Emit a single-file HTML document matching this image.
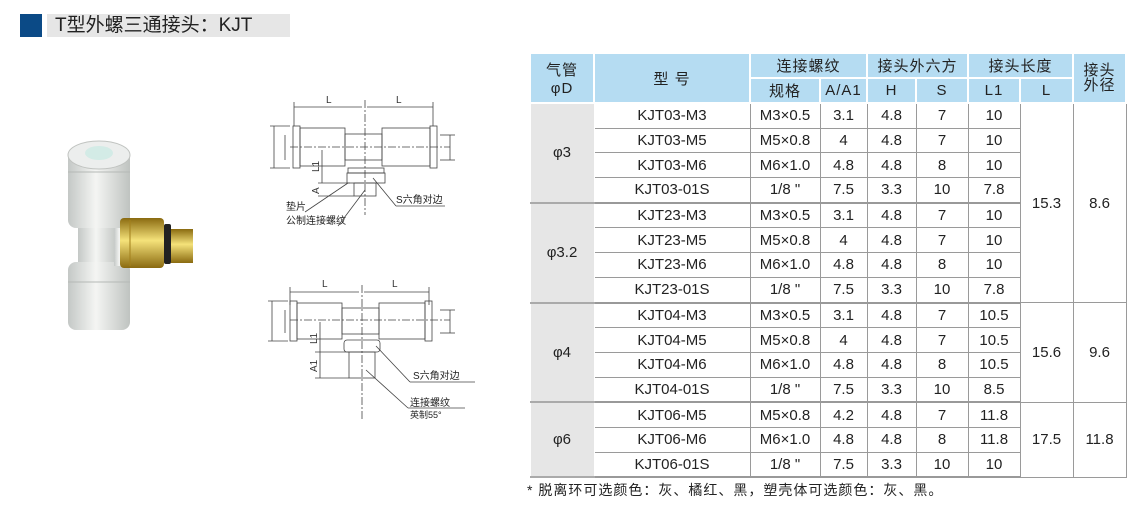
<!DOCTYPE html>
<html><head><meta charset="utf-8"><style>
body{margin:0;width:1140px;height:513px;background:#fff;position:relative;font-family:"Liberation Sans","Noto Sans CJK SC",sans-serif;overflow:hidden}
.abs{position:absolute}
table{position:absolute;left:529px;top:52px;border-collapse:collapse;table-layout:fixed;font-size:15px;color:#222}
td{text-align:center;padding:0;border:1px solid #9a9a9a;height:23.7px;white-space:nowrap}
th{background:#b5dcf2;font-weight:normal;border:2px solid #fff;height:23px;padding:0;letter-spacing:1px}
td.g{background:#e6e6e6;border:1px solid #fff;border-bottom:2px solid #aaa}
tr.gb td{border-bottom:2px solid #999}
</style></head><body>
<div class="abs" style="left:20px;top:14px;width:22px;height:23px;background:#0b4a86"></div>
<div class="abs" style="left:47px;top:14px;width:243px;height:23px;background:#e6e6e6;font-size:19px;line-height:23px;padding-left:8px;box-sizing:border-box;color:#222">T型外螺三通接头：KJT</div>

<svg class="abs" style="left:0;top:0" width="240" height="340">
<defs><linearGradient id="w" x1="0" x2="1"><stop offset="0" stop-color="#c4c8c6"/><stop offset=".45" stop-color="#f4f5f3"/><stop offset="1" stop-color="#bfc3c0"/></linearGradient>
<linearGradient id="b" x1="0" y1="0" x2="0" y2="1"><stop offset="0" stop-color="#8a6a10"/><stop offset=".45" stop-color="#f5e27a"/><stop offset="1" stop-color="#8a6a10"/></linearGradient></defs>
<rect x="78" y="210" width="40" height="70" fill="url(#w)"/>
<rect x="68" y="150" width="62" height="78" rx="8" fill="url(#w)"/>
<rect x="68" y="262" width="62" height="68" rx="8" fill="url(#w)"/>
<line x1="68" y1="172" x2="130" y2="172" stroke="#b5b9b6"/>
<line x1="68" y1="282" x2="130" y2="282" stroke="#b5b9b6"/>
<ellipse cx="99" cy="155" rx="31" ry="14" fill="#eceeed" stroke="#c0c3c0"/>
<ellipse cx="99" cy="153" rx="14" ry="7" fill="#d3ebe6"/>
<rect x="114" y="228" width="12" height="38" fill="url(#w)"/>
<rect x="120" y="218" width="44" height="50" rx="4" fill="url(#b)"/>
<line x1="130" y1="220" x2="130" y2="266" stroke="#a3801b"/>
<rect x="164" y="224" width="7" height="40" rx="2" fill="#222"/>
<rect x="171" y="229" width="22" height="34" fill="url(#b)"/>
</svg>

<svg class="abs" style="left:260px;top:90px" width="220" height="340" font-family="Liberation Sans, Noto Sans CJK SC, sans-serif" font-size="10" fill="none" stroke="#444" stroke-width="0.8">
<line x1="34" y1="17" x2="102" y2="17"/><line x1="107" y1="17" x2="173" y2="17"/>
<line x1="34" y1="12" x2="34" y2="36"/><line x1="173" y1="12" x2="173" y2="36"/>
<text x="66" y="13" fill="#333" stroke="none">L</text><text x="136" y="13" fill="#333" stroke="none">L</text>
<line x1="105" y1="10" x2="105" y2="125" stroke-dasharray="8 2 2 2"/>
<line x1="30" y1="57" x2="190" y2="57" stroke-dasharray="8 2 2 2"/>
<rect x="33" y="36" width="7" height="42"/><rect x="40" y="38" width="45" height="38"/>
<rect x="85" y="44" width="37" height="26"/><rect x="122" y="38" width="48" height="38"/><rect x="170" y="36" width="7" height="42"/>
<rect x="88" y="78" width="36" height="5"/><rect x="87" y="83" width="38" height="10"/><rect x="94" y="93" width="22" height="13"/>
<line x1="10" y1="36" x2="30" y2="36"/><line x1="10" y1="78" x2="30" y2="78"/><line x1="14" y1="36" x2="14" y2="78"/>
<line x1="25" y1="45" x2="25" y2="70"/><line x1="190" y1="45" x2="190" y2="70"/><line x1="180" y1="45" x2="195" y2="45"/><line x1="180" y1="70" x2="195" y2="70"/>
<line x1="62" y1="60" x2="62" y2="93"/><line x1="58" y1="93" x2="90" y2="93"/><line x1="58" y1="106" x2="94" y2="106"/>
<text fill="#333" stroke="none" transform="translate(59 82) rotate(-90)">L1</text>
<text fill="#333" stroke="none" transform="translate(59 104) rotate(-90)">A</text>
<text x="26" y="120" fill="#222" stroke="none">垫片</text><text x="26" y="134" fill="#222" stroke="none">公制连接螺纹</text>
<line x1="45" y1="122" x2="88" y2="93"/><line x1="78" y1="136" x2="105" y2="100"/>
<text x="136" y="113" fill="#222" stroke="none">S六角对边</text><line x1="113" y1="88" x2="136" y2="116"/><line x1="136" y1="116" x2="185" y2="116"/>
<line x1="30" y1="202" x2="99" y2="202"/><line x1="104" y1="202" x2="169" y2="202"/>
<line x1="30" y1="197" x2="30" y2="215"/><line x1="169" y1="197" x2="169" y2="215"/>
<text x="62" y="197" fill="#333" stroke="none">L</text><text x="132" y="197" fill="#333" stroke="none">L</text>
<line x1="102" y1="195" x2="102" y2="330" stroke-dasharray="8 2 2 2"/>
<line x1="30" y1="230" x2="190" y2="230" stroke-dasharray="8 2 2 2"/>
<rect x="30" y="211" width="7" height="40"/><rect x="37" y="213" width="45" height="36"/>
<rect x="82" y="218" width="37" height="26"/><rect x="119" y="213" width="46" height="36"/><rect x="165" y="211" width="7" height="40"/>
<rect x="84" y="250" width="36" height="12" rx="3"/><rect x="89" y="262" width="26" height="26"/>
<line x1="8" y1="211" x2="28" y2="211"/><line x1="8" y1="251" x2="28" y2="251"/><line x1="12" y1="211" x2="12" y2="251"/>
<line x1="25" y1="220" x2="25" y2="243"/><line x1="190" y1="220" x2="190" y2="243"/><line x1="180" y1="220" x2="195" y2="220"/><line x1="180" y1="243" x2="195" y2="243"/>
<line x1="60" y1="232" x2="60" y2="262"/><line x1="55" y1="262" x2="89" y2="262"/><line x1="55" y1="288" x2="89" y2="288"/><line x1="60" y1="262" x2="60" y2="288"/>
<text fill="#333" stroke="none" transform="translate(57 254) rotate(-90)">L1</text>
<text fill="#333" stroke="none" transform="translate(57 282) rotate(-90)">A1</text>
<text x="153" y="289" fill="#222" stroke="none">S六角对边</text><line x1="116" y1="256" x2="150" y2="292"/><line x1="150" y1="292" x2="215" y2="292"/>
<text x="150" y="316" fill="#222" stroke="none">连接螺纹</text><text x="150" y="328" fill="#222" stroke="none" font-size="9">英制55°</text>
<line x1="106" y1="280" x2="148" y2="318"/><line x1="148" y1="318" x2="205" y2="318"/>
</svg>

<table>
<colgroup><col style="width:64px"><col style="width:156px"><col style="width:70px"><col style="width:47px"><col style="width:49px"><col style="width:52px"><col style="width:52px"><col style="width:53px"><col style="width:53px"></colgroup>
<tr><th rowspan="2">气管<br>φD</th><th rowspan="2">型 号</th><th colspan="2">连接螺纹</th><th colspan="2">接头外六方</th><th colspan="2">接头长度</th><th rowspan="2" style="line-height:15px">接头<br>外径</th></tr>
<tr><th>规格</th><th>A/A1</th><th>H</th><th>S</th><th>L1</th><th>L</th></tr>
<tr><td class="g" rowspan="4">φ3</td><td>KJT03-M3</td><td>M3×0.5</td><td>3.1</td><td>4.8</td><td>7</td><td>10</td><td rowspan="8">15.3</td><td rowspan="8">8.6</td></tr>
<tr><td>KJT03-M5</td><td>M5×0.8</td><td>4</td><td>4.8</td><td>7</td><td>10</td></tr>
<tr><td>KJT03-M6</td><td>M6×1.0</td><td>4.8</td><td>4.8</td><td>8</td><td>10</td></tr>
<tr class="gb"><td>KJT03-01S</td><td>1/8 "</td><td>7.5</td><td>3.3</td><td>10</td><td>7.8</td></tr>
<tr><td class="g" rowspan="4">φ3.2</td><td>KJT23-M3</td><td>M3×0.5</td><td>3.1</td><td>4.8</td><td>7</td><td>10</td></tr>
<tr><td>KJT23-M5</td><td>M5×0.8</td><td>4</td><td>4.8</td><td>7</td><td>10</td></tr>
<tr><td>KJT23-M6</td><td>M6×1.0</td><td>4.8</td><td>4.8</td><td>8</td><td>10</td></tr>
<tr class="gb"><td>KJT23-01S</td><td>1/8 "</td><td>7.5</td><td>3.3</td><td>10</td><td>7.8</td></tr>
<tr><td class="g" rowspan="4">φ4</td><td>KJT04-M3</td><td>M3×0.5</td><td>3.1</td><td>4.8</td><td>7</td><td>10.5</td><td rowspan="4">15.6</td><td rowspan="4">9.6</td></tr>
<tr><td>KJT04-M5</td><td>M5×0.8</td><td>4</td><td>4.8</td><td>7</td><td>10.5</td></tr>
<tr><td>KJT04-M6</td><td>M6×1.0</td><td>4.8</td><td>4.8</td><td>8</td><td>10.5</td></tr>
<tr class="gb"><td>KJT04-01S</td><td>1/8 "</td><td>7.5</td><td>3.3</td><td>10</td><td>8.5</td></tr>
<tr><td class="g" rowspan="3">φ6</td><td>KJT06-M5</td><td>M5×0.8</td><td>4.2</td><td>4.8</td><td>7</td><td>11.8</td><td rowspan="3">17.5</td><td rowspan="3">11.8</td></tr>
<tr><td>KJT06-M6</td><td>M6×1.0</td><td>4.8</td><td>4.8</td><td>8</td><td>11.8</td></tr>
<tr class="gb"><td>KJT06-01S</td><td>1/8 "</td><td>7.5</td><td>3.3</td><td>10</td><td>10</td></tr>
</table>
<div class="abs" style="left:527px;top:480px;font-size:14px;color:#222;letter-spacing:1px">* 脱离环可选颜色：灰、橘红、黑，塑壳体可选颜色：灰、黑。</div>
</body></html>
